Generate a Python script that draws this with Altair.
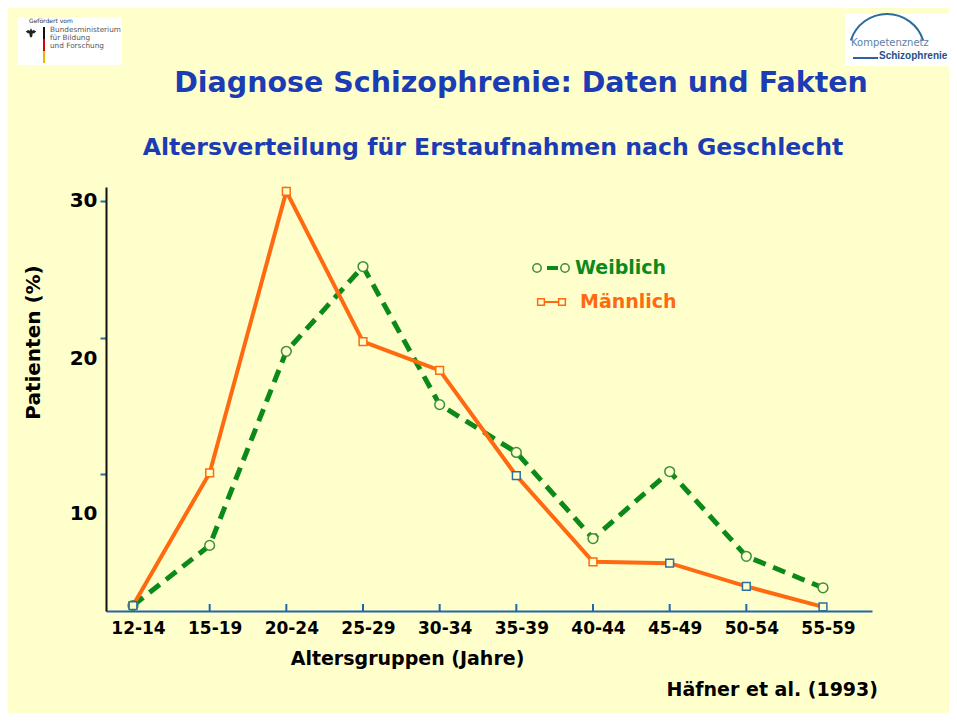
import json
import altair as alt
import pandas as pd

# ---------------- data ----------------
age_groups = ["12-14", "15-19", "20-24", "25-29", "30-34",
              "35-39", "40-44", "45-49", "50-54", "55-59"]
weiblich = [0.4, 4.8, 19.0, 25.2, 15.1, 11.6, 5.3, 10.2, 4.0, 1.7]
maennlich = [0.4, 10.1, 30.7, 19.7, 17.6, 9.9, 3.6, 3.5, 1.8, 0.3]
y_ticks = [10, 20, 30]
series_names = ["Weiblich", "Männlich"]

title_text = "Diagnose Schizophrenie: Daten und Fakten"
subtitle_text = "Altersverteilung für Erstaufnahmen nach Geschlecht"
source_text = "Häfner et al. (1993)"
x_title = "Altersgruppen (Jahre)"
y_title = "Patienten (%)"

# ---------------- style ----------------
BG = "#FFFFCC"
GREEN = "#0b8a1a"
GREEN_MK = "#3d8f3d"
ORANGE = "#ff6a10"
SQ_BLUE = "#2f6fa0"
AX_BLUE = "#2266aa"
TICK_TEAL = "#2a7090"
TITLE_BLUE = "#1c3cb4"
FONT = "DejaVu Sans"
W, H = 766, 424

idx = list(range(len(age_groups)))
df_w = pd.DataFrame({"i": idx, "gruppe": age_groups, "wert": weiblich, "serie": series_names[0]})
df_m = pd.DataFrame({"i": idx, "gruppe": age_groups, "wert": maennlich, "serie": series_names[1]})
df_ticks = pd.DataFrame({"i": idx})

label_expr = "%s[datum.value]" % json.dumps(age_groups)

x_enc = alt.X(
    "i:Q",
    scale=alt.Scale(domain=[-0.352, 9.639], nice=False, zero=False),
    axis=alt.Axis(
        values=idx, labelExpr=label_expr, ticks=False, grid=False,
        domainColor=AX_BLUE, domainWidth=2,
        labelFont=FONT, labelFontSize=17, labelFontWeight="bold", labelColor="black",
        labelPadding=9, labelOffset=5, labelFlush=False, labelOverlap=False,
        title=x_title, titleFont=FONT, titleFontSize=19, titleFontWeight="bold",
        titleColor="black", titleX=301, titleY=47, titleBaseline="middle", titleAlign="center",
    ),
)
y_enc = alt.Y(
    "wert:Q",
    scale=alt.Scale(domain=[0, 31.02], nice=False, zero=True),
    axis=alt.Axis(
        values=y_ticks, grid=False,
        domainColor="#111111", domainWidth=2,
        tickColor=TICK_TEAL, tickSize=6, tickWidth=2,
        labelFont=FONT, labelFontSize=20, labelFontWeight="bold", labelColor="black",
        labelPadding=3,
        labelOffset={"condition": [{"test": "datum.value == 20", "value": 21},
                                   {"test": "datum.value == 10", "value": 39}],
                     "value": 0},
        title=y_title, titleFont=FONT, titleFontSize=20, titleFontWeight="bold",
        titleColor="black", titleX=-73, titleY=155, titleBaseline="middle", titleAlign="center",
        titleAngle=270,
    ),
)

line_w = alt.Chart(df_w).mark_line(color=GREEN, strokeWidth=5, strokeDash=[13, 8]).encode(x=x_enc, y=y_enc)
line_m = alt.Chart(df_m).mark_line(color=ORANGE, strokeWidth=4).encode(x="i:Q", y="wert:Q")
pts_w = alt.Chart(df_w).mark_point(shape="circle", size=95, filled=True, fill=BG, stroke=GREEN_MK,
                                   strokeWidth=1.5, opacity=1).encode(x="i:Q", y="wert:Q")
pts_m = alt.Chart(df_m).mark_point(shape="square", size=60, filled=True, fill=BG,
                                   strokeWidth=1.5, opacity=1).encode(
    x="i:Q", y="wert:Q",
    stroke=alt.condition("indexof([0,5,7,8,9], datum.i) >= 0", alt.value(SQ_BLUE), alt.value(ORANGE)),
)
x_ticks = alt.Chart(df_ticks).mark_rule(color=AX_BLUE, strokeWidth=2).encode(
    x="i:Q", y=alt.value(H - 7), y2=alt.value(H))


def one():
    return alt.Chart(pd.DataFrame({"k": [0]}))


def txt(s, x, y, size, color, weight="bold", align="left", baseline="middle", font=FONT):
    return alt.Chart(pd.DataFrame({"t": [s]})).mark_text(
        align=align, baseline=baseline, font=font, fontSize=size, fontWeight=weight, color=color
    ).encode(text="t:N", x=alt.value(x), y=alt.value(y))


def rule(x1, x2, y1, y2, color, width, dash=None):
    kw = dict(color=color, strokeWidth=width)
    if dash:
        kw["strokeDash"] = dash
    return one().mark_rule(**kw).encode(x=alt.value(x1), x2=alt.value(x2), y=alt.value(y1), y2=alt.value(y2))


def marker(shape, x, y, size, stroke):
    return one().mark_point(shape=shape, size=size, filled=True, fill=BG, stroke=stroke,
                            strokeWidth=1.5, opacity=1).encode(x=alt.value(x), y=alt.value(y))


# titles
title = txt(title_text, 415, -104, 28.5, TITLE_BLUE, align="center")
subtitle = txt(subtitle_text, 387, -39, 23.6, TITLE_BLUE, align="center")
source = txt(source_text, 772, 503, 19, "black", align="right")

# legend
leg = [
    rule(441, 452, 81, 81, GREEN, 4),
    marker("circle", 431, 81, 70, GREEN_MK),
    marker("circle", 459, 81, 70, GREEN_MK),
    txt(series_names[0], 469, 81, 19, GREEN),
    rule(439, 452, 115, 115, ORANGE, 2),
    marker("square", 435, 115, 45, ORANGE),
    marker("square", 456, 115, 45, ORANGE),
    txt(series_names[1], 474, 115, 19, ORANGE),
]

# left logo
eagle_path = ("M-1,-0.3 L-0.55,-0.55 L-0.25,-0.45 L0,-0.9 L0.25,-0.45 L0.55,-0.55 L1,-0.3 "
              "L0.6,0.05 L0.3,0.1 L0.25,0.6 L0,0.9 L-0.25,0.6 L-0.3,0.1 L-0.6,0.05 Z")
logo_l = [
    one().mark_rect(color="white").encode(x=alt.value(-88), x2=alt.value(16), y=alt.value(-170), y2=alt.value(-122)),
    txt("Gefördert vom", -77, -166, 6, "#333333", weight="normal"),
    one().mark_point(shape=eagle_path, size=110, filled=True, color="#222222", opacity=1).encode(
        x=alt.value(-75), y=alt.value(-154)),
    rule(-62, -62, -160, -148, "#111111", 2),
    rule(-62, -62, -148, -136, "#dd0000", 2),
    rule(-62, -62, -136, -124, "#e8b800", 2),
    txt("Bundesministerium", -56, -157, 7.3, "#555555", weight="normal"),
    txt("für Bildung", -56, -149, 7.3, "#555555", weight="normal"),
    txt("und Forschung", -56, -141, 7.3, "#555555", weight="normal"),
]

# right logo
logo_r = [
    one().mark_rect(color="white").encode(x=alt.value(739), x2=alt.value(845), y=alt.value(-173), y2=alt.value(-121)),
    one().mark_arc(color="#2a6d9c").encode(
        x=alt.value(781), y=alt.value(-135), radius=alt.value(39), radius2=alt.value(37),
        theta=alt.value(5.02), theta2=alt.value(7.55)),
    txt("Kompetenznetz", 745, -144, 10, "#5a7fa8", weight="normal", align="left"),
    rule(747, 772, -129, -129, "#3060a0", 2),
    txt("Schizophrenie", 773, -131, 10, "#1f4f8a", align="left", font="Liberation Sans"),
]

chart = alt.layer(
    *logo_l, *logo_r,
    line_w, line_m, x_ticks, pts_w, pts_m,
    title, subtitle, source, *leg,
).properties(
    width=W, height=H,
    autosize=alt.AutoSizeParams(type="none"),
    padding={"left": 98, "top": 179, "right": 77, "bottom": 102},
).configure(background=BG).configure_view(stroke=None)

chart.save("out.html", embed_options={"renderer": "svg", "actions": False})
